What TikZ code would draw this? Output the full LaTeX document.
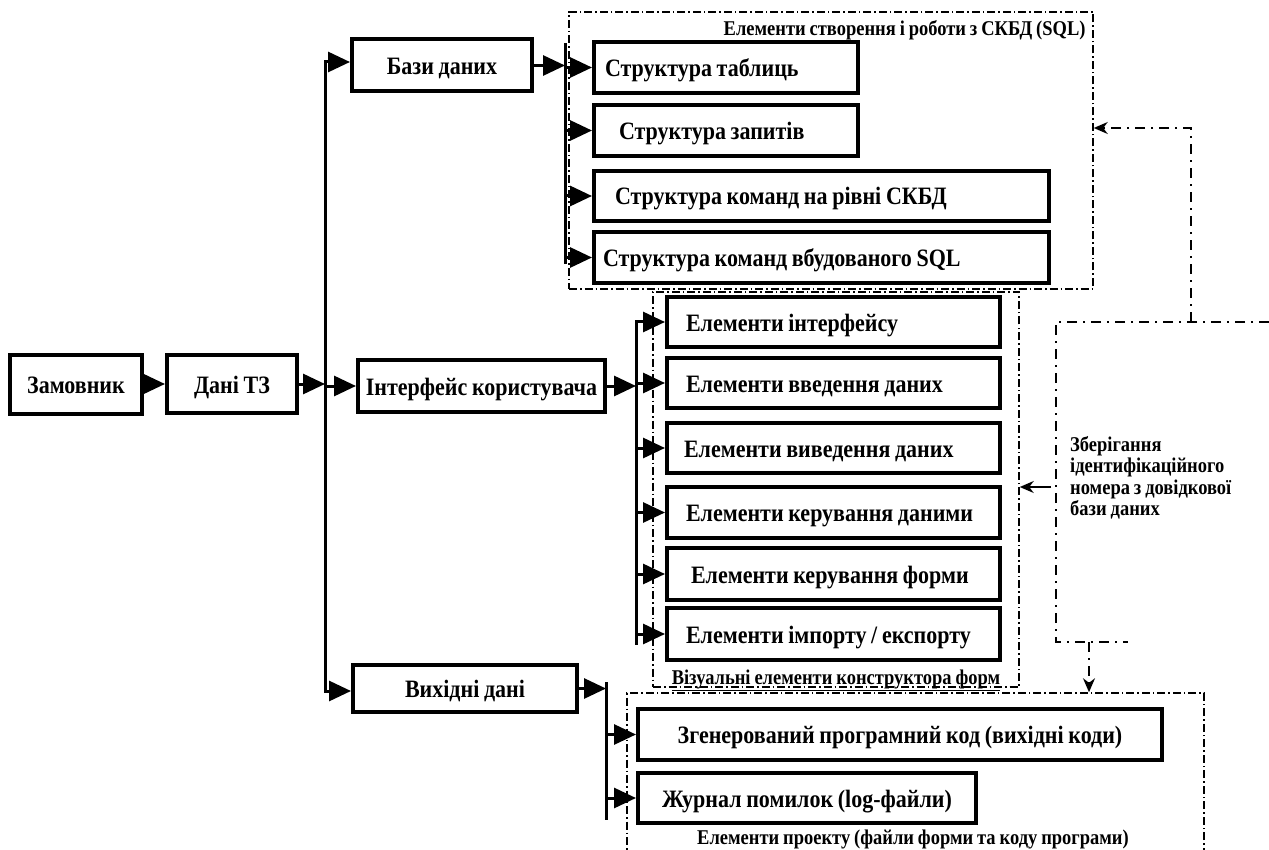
\documentclass[tikz,border=0pt]{standalone}
\usepackage{fontspec}
\setmainfont{Liberation Serif}[FakeStretch=0.88,WordSpace=0.85]
\usepackage{tikz}
\usetikzlibrary{arrows.meta,positioning,calc}
\newcommand{\boxfont}{\fontsize{25}{29}\selectfont\bfseries}
\newcommand{\grpfont}{\fontsize{21}{21.5}\selectfont\bfseries}
\tikzset{
  blk/.style={draw,line width=4pt,inner sep=0pt,align=center,font=\boxfont,text height=18pt,text depth=0pt},
  lblk/.style={blk,align=flush left,text width=#1},
  grp/.style={draw,line width=1.5pt,dash pattern=on 8pt off 3pt on 1.5pt off 3pt,inner sep=0pt},
  gtxt/.style={inner sep=0pt,font=\grpfont},
  bus/.style={line width=3pt,line cap=rect},
  arr/.style={-{Triangle[length=22pt,width=20pt]},line width=3pt},
  dd/.style={line width=1.8pt,dash pattern=on 10pt off 6pt on 2pt off 6pt},
  darr/.style={dd,-{Stealth[length=14pt,width=12pt]}},
  tarr/.style={-{Stealth[length=14pt,width=12pt]},line width=1.8pt},
}

\begin{document}
\begin{tikzpicture}[x=1pt,y=-1pt]
        \useasboundingbox (0,0) rectangle (1269,850);
        \clip (0,0) rectangle (1269,850);
        % dash-dot groups
        \node[grp,minimum width=524pt,minimum height=277pt] (sqlgrp) at (831,150.5) {};
        \node[grp,minimum width=366pt,minimum height=395pt] (frmgrp) at (836,489.5) {};
        \node[grp,minimum width=577pt,minimum height=190pt] (prjgrp) at (915.5,788) {};
        \node[gtxt,anchor=base east] (sqltxt) at ([xshift=-8pt,yshift=-24pt]sqlgrp.north east) {Елементи створення і роботи з СКБД (SQL)};
        \node[gtxt,anchor=base] (frmtxt) at ([yshift=3pt]frmgrp.south) {\underline{Візуальні елементи конструктора форм}};
        \node[gtxt,anchor=base] (prjtxt) at (913,844) {Елементи проекту (файли форми та коду програми)};
        % main chain
        \node[blk,minimum width=132pt,minimum height=59pt] (zam)  at (76,384)    {Замовник};
        \node[blk,minimum width=130pt,minimum height=58pt] (dani) at (232,384)   {Дані ТЗ};
        \node[blk,minimum width=180pt,minimum height=52pt] (baz)  at (442,65.5)  {Бази даних};
        \node[blk,minimum width=247pt,minimum height=52pt] (intf) at (481.5,386) {Інтерфейс користувача};
        \node[blk,minimum width=224pt,minimum height=47pt] (vyh)  at (465,688.5) {Вихідні дані};
        % SQL
        \node[lblk=242pt,minimum width=264pt,minimum height=51pt] (s1) at (726,67.5)   {Структура таблиць};
        \node[lblk=214pt,minimum width=264pt,minimum height=51pt] (s2) at (726,130.5)  {Структура запитів};
        \node[lblk=413pt,minimum width=455pt,minimum height=50pt] (s3) at (821.5,196)  {Структура команд на рівні СКБД};
        \node[lblk=437pt,minimum width=455pt,minimum height=51pt] (s4) at (821.5,257.5){Структура команд вбудованого SQL};
        % forms
        \node[lblk=295pt,minimum width=333pt,minimum height=50pt] (e1) at (833.5,322)   {Елементи інтерфейсу};
        \node[lblk=295pt,minimum width=333pt,minimum height=50pt] (e2) at (833.5,383)   {Елементи введення даних};
        \node[lblk=299pt,minimum width=333pt,minimum height=50pt] (e3) at (833.5,448)   {Елементи виведення даних};
        \node[lblk=295pt,minimum width=333pt,minimum height=51pt] (e4) at (833.5,512.5) {Елементи керування даними};
        \node[lblk=285pt,minimum width=333pt,minimum height=52pt] (e5) at (833.5,574)   {Елементи керування форми};
        \node[lblk=295pt,minimum width=333pt,minimum height=52pt] (e6) at (833.5,634)   {Елементи імпорту / експорту};
        % project
        \node[blk,minimum width=524pt,minimum height=51pt] (p1) at (900,734.5) {Згенерований програмний код (вихідні коди)};
        \node[blk,minimum width=338pt,minimum height=50pt] (p2) at (807,798)   {Журнал помилок (log-файли)};
        \node[gtxt,align=flush left,anchor=north west] (note) at (1070,436) {Зберігання\\ідентифікаційного\\номера з довідкової\\бази даних};
        % bus points
        \coordinate (ttop) at (325,62);  \coordinate (tbot) at (325,691);
        \coordinate (b1top) at (565,45); \coordinate (b1bot) at (565,263);
        \coordinate (b2top) at (636,322); \coordinate (b2bot) at (636,643);
        \coordinate (b3top) at (606,683); \coordinate (b3bot) at (606,818);
        \draw[arr] (zam)--(dani); \draw[arr] (dani)--(dani -| ttop);
        \draw[bus] (ttop)--(tbot);
        \draw[arr] (ttop)--(ttop -| baz.west); \draw[arr] (intf.west -| ttop)--(intf.west); \draw[arr] (tbot)--(tbot -| vyh.west);
        \draw[arr] (baz)--(baz -| b1top); \draw[bus] (b1top)--(b1bot);
        \foreach \n in {s1,s2,s3,s4} \draw[arr] (\n -| b1top)--(\n);
        \draw[arr] (intf)--(intf -| b2top); \draw[bus] (b2bot)--(b2top);
        \draw[arr] (b2top)--(e1);
        \foreach \n in {e2,e3,e4,e5,e6} \draw[arr] (\n -| b2top)--(\n);
        \draw[arr] (vyh)--(vyh -| b3top); \draw[bus] (b3top)--(b3bot);
        \foreach \n in {p1,p2} \draw[arr] (\n -| b3top)--(\n);
        % dash-dot links on the right
        \coordinate (brtl) at (1056,322); \coordinate (brtr) at (1269,322);
        \coordinate (brbl) at (1056,642); \coordinate (brbr) at (1128,642);
        \coordinate (upb) at (1191,322);  \coordinate (upt) at (1191,128);
        \coordinate (dnb) at (1089,642);  \coordinate (nt) at (1051,487);
        \draw[dd] (brtr)--(brtl)--(brbl)--(brbr);
        \draw[darr] (upb)--(upt)--(upt -| sqlgrp.east);
        \draw[darr] (dnb)--(dnb |- prjgrp.north);
        \draw[tarr] (nt)--(nt -| frmgrp.east);
      \end{tikzpicture}
\end{document}
